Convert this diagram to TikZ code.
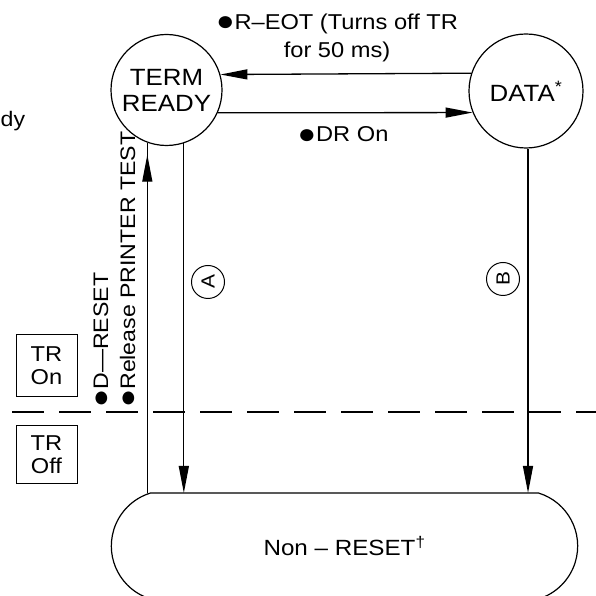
\documentclass[tikz,border=0pt]{standalone}
\usepackage{fontspec}
\setmainfont{Liberation Sans}[FakeStretch=1.1]
\usetikzlibrary{arrows.meta,shapes.misc}

\newcommand{\dotmark}{\raisebox{-0.06em}{\scalebox{1.3}{●}}}

\tikzset{
  state/.style={draw, circle, line width=1.2pt, align=center, inner sep=0pt,
    font=\fontsize{23.5}{26}\selectfont},
  flow/.style={line width=1.3pt},
  flowtip/.style={-{Triangle[length=27pt,width=10pt]}},
  msg/.style={align=center, inner sep=0pt, font=\fontsize{21.5}{28}\selectfont},
  sidemsg/.style={rotate=90, anchor=base west, inner sep=0pt,
    font=\fontsize{21}{24}\selectfont},
  tag/.style={draw, circle, rotate=90, minimum size=33pt, inner sep=0pt,
    line width=1pt, font=\fontsize{19}{20}\selectfont},
  trbox/.style={draw, line width=1pt, minimum width=61pt, align=center,
    inner sep=0pt, font=\fontsize{21.5}{23}\selectfont},
}

\begin{document}
\begin{tikzpicture}[x=1pt, y=1pt]
  \useasboundingbox (0,0) rectangle (596,596);
  \clip (0,0) rectangle (596,596);

  % states
  \node[state, minimum size=111pt] (term) at (166.5,506) {TERM\\READY};
  \node[state, minimum size=114pt] (data) at (526,505) {DATA\textsuperscript{*}};
  \node[draw, rounded rectangle, rounded rectangle arc length=146,
        minimum width=473pt, minimum height=106pt, outer sep=0pt,
        line width=1.2pt, font=\fontsize{22}{24}\selectfont]
        (nonreset) at (344.5,50) {Non -- RESET\textsuperscript{\dag}};

  % between the two states
  \draw[flow, flowtip] (data.162.6) -- (term.16.8);
  \draw[flow, flowtip] (term.-24.5) -- (data.202.7);
  \node[msg] (reot) at (337,558) {\dotmark R--EOT (Turns off TR\\for 50 ms)};
  \node[msg] (dron) at (343,461) {\dotmark DR On};

  % down to Non-RESET
  \draw[flow, flowtip] (term.-72.7) -- (term.-72.7 |- nonreset.north);
  \draw[flow, flowtip] (data.-88) -- (data.-88 |- nonreset.north);
  \node[tag] (tagA) at (208,314) {A};
  \node[tag] (tagB) at (503,317) {B};

  % back up to TERM READY
  \coordinate (upstart) at (term.-110.6 |- nonreset.north);
  \coordinate (uptip) at ([yshift=-12pt]term.-110.6);
  \draw[flow] (upstart) -- (term.-110.6);
  \draw[flow, flowtip] (upstart) -- (uptip);
  \node[sidemsg] (dreset) at (108,188) {\dotmark D---RESET};
  \node[sidemsg] (release) at (135,188) {\dotmark Release PRINTER TEST};

  % TR on / off
  \node[trbox, minimum height=62pt] (tron) at (46.5,230) {TR\\On};
  \node[trbox, minimum height=58pt] (troff) at (46.5,141) {TR\\Off};
  \coordinate (dashstart) at (12,184);
  \coordinate (dashend) at (596,184);
  \draw[line width=2.4pt, dash pattern=on 32pt off 15pt] (dashstart) -- (dashend);

  % cut off text at the left
  \node[anchor=base west, inner sep=0pt, font=\fontsize{21}{22}\selectfont]
        (ready) at (0.5,469) {dy};
\end{tikzpicture}
\end{document}
